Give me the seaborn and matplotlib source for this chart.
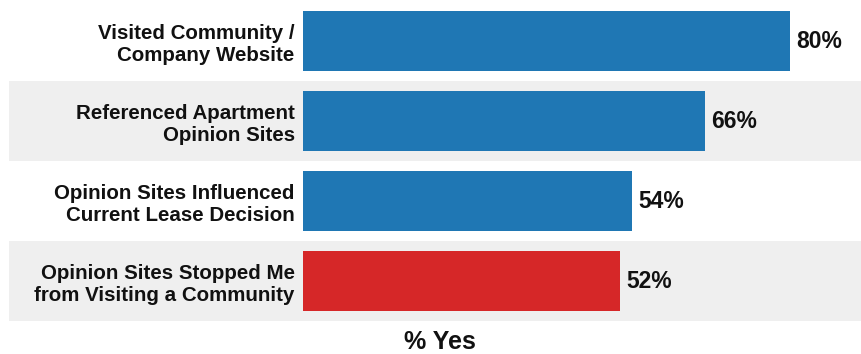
import matplotlib
matplotlib.use("Agg")
import matplotlib.pyplot as plt
import matplotlib.transforms as mtransforms
from matplotlib.patches import Rectangle
import seaborn as sns
import pandas as pd

categories = [
    "Visited Community /\nCompany Website",
    "Referenced Apartment\nOpinion Sites",
    "Opinion Sites Influenced\nCurrent Lease Decision",
    "Opinion Sites Stopped Me\nfrom Visiting a Community",
]
values = [80, 66, 54, 52]
value_labels = ["80%", "66%", "54%", "52%"]
bar_colors = ["#1F77B4", "#1F77B4", "#1F77B4", "#D62728"]
axis_title = "% Yes"

sns.set_theme(style="white")
plt.rcParams["font.family"] = ["Liberation Sans", "DejaVu Sans"]

W, H = 862, 354
fig = plt.figure(figsize=(W / 100, H / 100), dpi=100)
ax = fig.add_axes([303 / W, 1 - 321 / H, 1 - 303 / W, 320 / H])
ax.set_facecolor("none")

df = pd.DataFrame({"cat": categories, "val": values})
sns.barplot(data=df, y="cat", x="val", hue="cat", palette=bar_colors,
            orient="h", width=0.76, legend=False, ax=ax, zorder=2,
            saturation=1, edgecolor="none")

ax.set_xlim(0, (W - 303) / 6.09)
ax.set_ylim(len(categories) - 0.5, -0.5)

# alternating grey bands spanning the full figure width
trans = mtransforms.blended_transform_factory(fig.transFigure, ax.transData)
for i in range(len(categories)):
    if i % 2 == 1:
        ax.add_patch(Rectangle((9 / W, i - 0.5), 1 - 9 / W, 1.0,
                               transform=trans, facecolor="#EFEFEF",
                               edgecolor="none", clip_on=False, zorder=0))

ax.set_yticks(range(len(categories)))
ax.set_yticklabels(categories, fontsize=14.8, fontweight="bold",
                   color="#111111", linespacing=1.2)
ax.tick_params(axis="y", length=0, pad=6)
ax.set_xticks([])
ax.set_xlabel("")
ax.set_ylabel("")
for s in ax.spines.values():
    s.set_visible(False)

for i, (v, lab) in enumerate(zip(values, value_labels)):
    ax.annotate(lab, xy=(v, i), xytext=(4.5, 0), textcoords="offset points",
                ha="left", va="center", fontsize=16.5, fontweight="bold",
                color="#111111")

fig.text(440 / W, 1 - 342 / H, axis_title, ha="center", va="center",
         fontsize=18, fontweight="bold", color="#111111")

fig.savefig("out.png", dpi=100)
